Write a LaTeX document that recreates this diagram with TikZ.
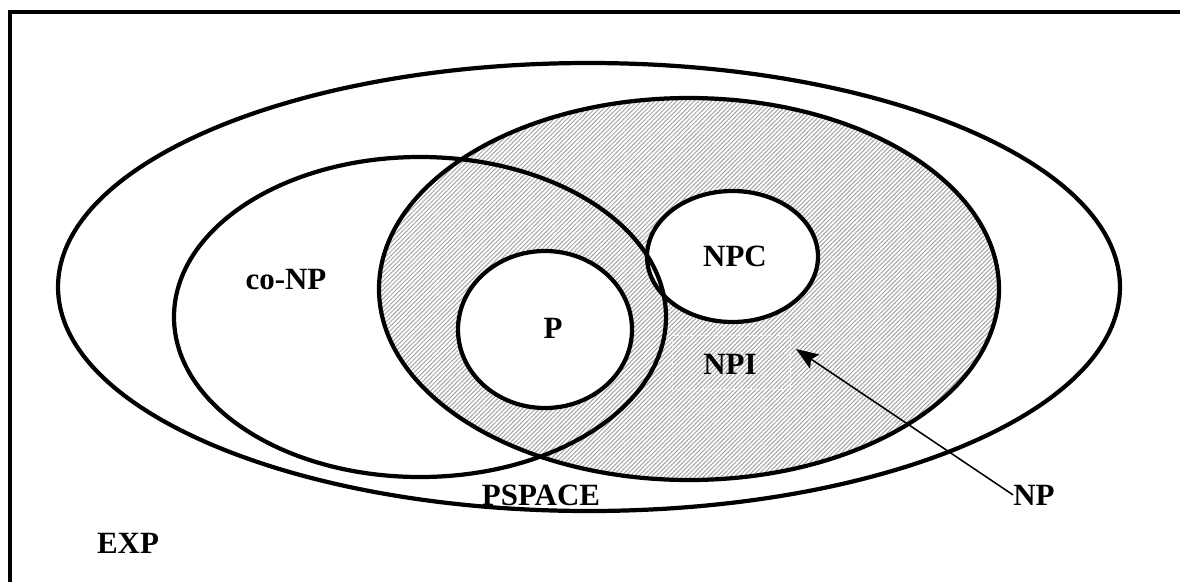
\documentclass[tikz,border=0pt]{standalone}
\usepackage{fontspec}
\setmainfont{Liberation Serif}
\usetikzlibrary{patterns.meta,arrows.meta}
\begin{document}
\begin{tikzpicture}[x=0.025cm,y=-0.025cm,
  setline/.style={line width=3pt},
  lab/.style={font=\fontsize{22}{26}\selectfont\bfseries, inner sep=0pt, anchor=base},
  hatch/.style={pattern={Lines[angle=45,distance=2.2pt,line width=0.75pt]}, pattern color=gray!70},
  bigtip/.tip={Stealth[length=16pt,width=12pt,inset=3pt]}]
\useasboundingbox (0,0) rectangle (1180,581);
\clip (0,0) rectangle (1180,581);
% frame
\draw[setline] (10,620) -- (10,12) -- (1220,12);
% NP hatched region
\fill[hatch] (689,289) ellipse [x radius=310, y radius=191];
\fill[white] (545,329.5) ellipse [x radius=87, y radius=78.5];
\fill[white] (732.5,256.5) ellipse [x radius=85.5, y radius=65.5];
% NPI faint box
\draw[white, dash pattern=on 1pt off 1pt, line width=0.6pt] (672,335) rectangle (790,389);
% outlines
\draw[setline] (589,287) ellipse [x radius=531, y radius=224];
\draw[setline] (420,317) ellipse [x radius=246, y radius=160];
\draw[setline] (689,289) ellipse [x radius=310, y radius=191];
\draw[setline] (545,329.5) ellipse [x radius=87, y radius=78.5];
\draw[setline] (732.5,256.5) ellipse [x radius=85.5, y radius=65.5];
% labels
\node[lab] (conp) at (286,289) {co-NP};
\node[lab] (p) at (553,338.5) {P};
\node[lab] (npc) at (735,266.5) {NPC};
\node[lab] (npi) at (730,374) {NPI};
\node[lab] (pspace) at (541,505.5) {PSPACE};
\node[lab] (exp) at (128,553) {EXP};
\node[lab, anchor=base west] (np) at (1013,505) {NP};
% arrow
\coordinate (tip) at (796,349);
\draw[line width=1.1pt, -bigtip] (np.west) -- (tip);
\end{tikzpicture}
\end{document}
